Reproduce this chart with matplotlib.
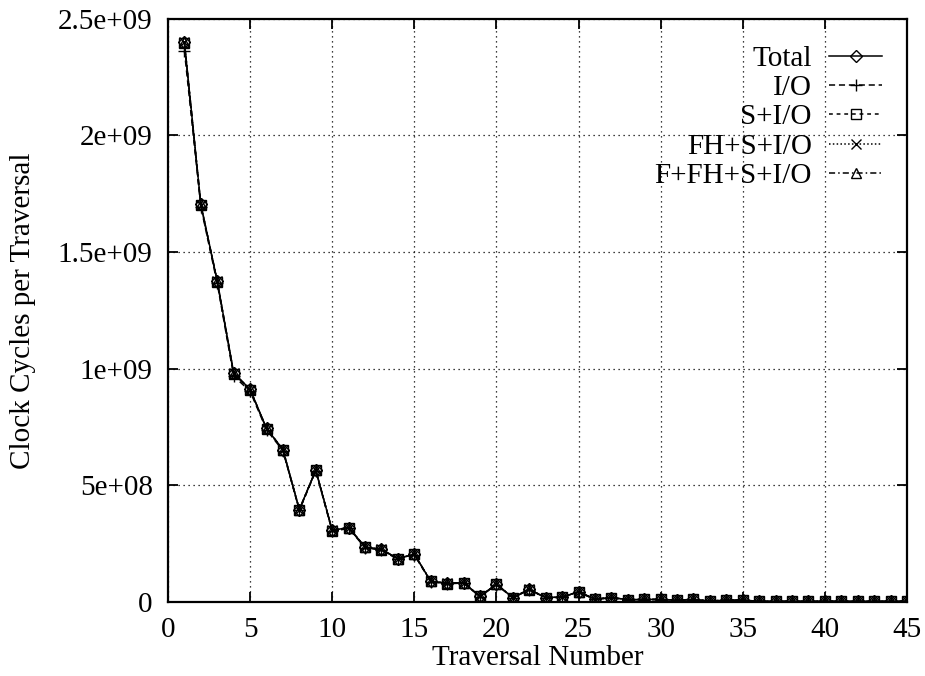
import matplotlib
matplotlib.use("Agg")
import matplotlib.pyplot as plt
from matplotlib.ticker import FixedLocator

plt.rcParams['font.family'] = ['Liberation Serif', 'DejaVu Serif']

traversal = list(range(1, 46))
total = [2.400e9, 1.704e9, 1.375e9, 0.982e9, 0.911e9, 0.744e9, 0.653e9, 0.396e9, 0.565e9, 0.307e9,
         0.319e9, 0.236e9, 0.225e9, 0.186e9, 0.205e9, 0.089e9, 0.080e9, 0.083e9, 0.024e9, 0.076e9,
         0.019e9, 0.054e9, 0.019e9, 0.021e9, 0.044e9, 0.012e9, 0.019e9, 0.010e9, 0.011e9, 0.011e9,
         0.008e9, 0.011e9, 0.004e9, 0.008e9, 0.008e9, 0.003e9, 0.003e9, 0.003e9, 0.003e9, 0.003e9,
         0.003e9, 0.003e9, 0.003e9, 0.003e9, 0.003e9]
io = [2.362e9, 1.693e9, 1.365e9, 0.968e9, 0.903e9, 0.738e9, 0.648e9, 0.393e9, 0.561e9, 0.303e9,
      0.315e9, 0.233e9, 0.222e9, 0.183e9, 0.202e9, 0.087e9, 0.078e9, 0.081e9, 0.023e9, 0.074e9,
      0.018e9, 0.052e9, 0.018e9, 0.020e9, 0.042e9, 0.011e9, 0.018e9, 0.009e9, 0.010e9, 0.010e9,
      0.007e9, 0.010e9, 0.003e9, 0.007e9, 0.007e9, 0.002e9, 0.002e9, 0.002e9, 0.002e9, 0.002e9,
      0.002e9, 0.002e9, 0.002e9, 0.002e9, 0.002e9]
s_io = [2.395e9, 1.701e9, 1.373e9, 0.978e9, 0.908e9, 0.742e9, 0.651e9, 0.395e9, 0.564e9, 0.306e9,
        0.318e9, 0.235e9, 0.224e9, 0.185e9, 0.204e9, 0.088e9, 0.079e9, 0.082e9, 0.024e9, 0.075e9,
        0.019e9, 0.053e9, 0.019e9, 0.021e9, 0.043e9, 0.012e9, 0.019e9, 0.010e9, 0.011e9, 0.011e9,
        0.008e9, 0.011e9, 0.004e9, 0.008e9, 0.008e9, 0.003e9, 0.003e9, 0.003e9, 0.003e9, 0.003e9,
        0.003e9, 0.003e9, 0.003e9, 0.003e9, 0.003e9]
fh_s_io = [2.398e9, 1.703e9, 1.374e9, 0.980e9, 0.910e9, 0.743e9, 0.652e9, 0.396e9, 0.565e9, 0.307e9,
           0.319e9, 0.236e9, 0.225e9, 0.186e9, 0.205e9, 0.089e9, 0.080e9, 0.083e9, 0.024e9, 0.076e9,
           0.019e9, 0.054e9, 0.019e9, 0.021e9, 0.044e9, 0.012e9, 0.019e9, 0.010e9, 0.011e9, 0.011e9,
           0.008e9, 0.011e9, 0.004e9, 0.008e9, 0.008e9, 0.003e9, 0.003e9, 0.003e9, 0.003e9, 0.003e9,
           0.003e9, 0.003e9, 0.003e9, 0.003e9, 0.003e9]
f_fh_s_io = [2.399e9, 1.704e9, 1.375e9, 0.981e9, 0.911e9, 0.744e9, 0.653e9, 0.396e9, 0.565e9, 0.307e9,
             0.319e9, 0.236e9, 0.225e9, 0.186e9, 0.205e9, 0.089e9, 0.080e9, 0.083e9, 0.024e9, 0.076e9,
             0.019e9, 0.054e9, 0.019e9, 0.021e9, 0.044e9, 0.012e9, 0.019e9, 0.010e9, 0.011e9, 0.011e9,
             0.008e9, 0.011e9, 0.004e9, 0.008e9, 0.008e9, 0.003e9, 0.003e9, 0.003e9, 0.003e9, 0.003e9,
             0.003e9, 0.003e9, 0.003e9, 0.003e9, 0.003e9]

labels = ['Total', 'I/O', 'S+I/O', 'FH+S+I/O', 'F+FH+S+I/O']
xticks = [0, 5, 10, 15, 20, 25, 30, 35, 40, 45]
yticks = [0, 5e8, 1e9, 1.5e9, 2e9, 2.5e9]
ytick_labels = ['0', '5e+08', '1e+09', '1.5e+09', '2e+09', '2.5e+09']

FS = 21

fig = plt.figure(figsize=(9.25, 6.76), dpi=100)
ax = fig.add_axes([0.1816, 0.1095, 0.7989, 0.8631])

series = [total, io, s_io, fh_s_io, f_fh_s_io]
styles = [
    dict(linestyle='-', marker='D', markersize=6),
    dict(linestyle=(0, (4, 2.5)), marker='+', markersize=9),
    dict(linestyle=(0, (2.5, 2.5)), marker='s', markersize=7),
    dict(linestyle=(0, (1, 1.5)), marker='x', markersize=7),
    dict(linestyle=(0, (4, 2, 1, 2)), marker='^', markersize=7),
]
for vals, lab, st in zip(series, labels, styles):
    ax.plot(traversal, vals, color='black', linewidth=1.1, markerfacecolor='none',
            markeredgecolor='black', markeredgewidth=1.0, label=lab, **st)

ax.set_xlim(0, 45)
ax.set_ylim(0, 2.5e9)
ax.xaxis.set_major_locator(FixedLocator(xticks))
ax.set_yticks(yticks)
ax.set_yticklabels(ytick_labels)
ax.tick_params(direction='in', top=True, right=True, length=7, width=1.3, labelsize=FS)
ax.tick_params(axis='x', pad=11)
ax.tick_params(axis='y', pad=11)
ax.grid(True, color='black', linestyle=(0, (1, 3)), linewidth=0.9)
for sp in ax.spines.values():
    sp.set_linewidth(1.6)

ax.set_xlabel('Traversal Number', fontsize=FS, labelpad=1)
ax.set_ylabel('Clock Cycles per Traversal', fontsize=FS, labelpad=16)

leg = ax.legend(loc='upper right', frameon=False, markerfirst=False, fontsize=FS,
                handlelength=1.8, labelspacing=0.1, borderaxespad=0.0, borderpad=0.4,
                handletextpad=0.6, bbox_to_anchor=(0.982, 0.974))

fig.savefig('out.png', dpi=100)
